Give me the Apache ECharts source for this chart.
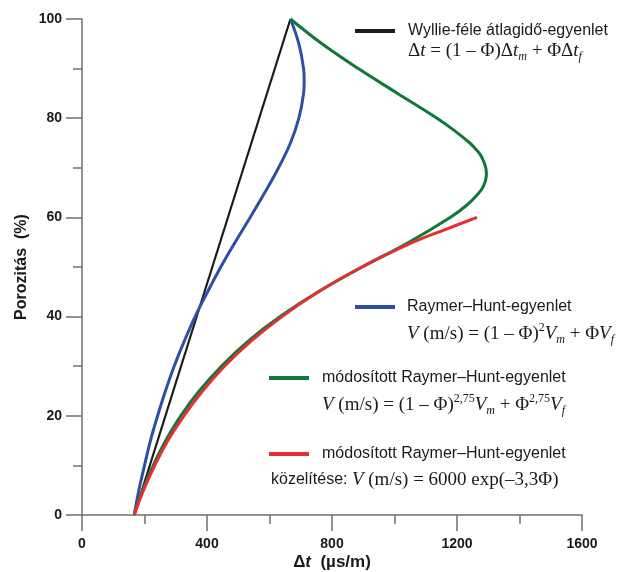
<!DOCTYPE html>
<html>
<head>
<meta charset="utf-8">
<script src="https://cdn.jsdelivr.net/npm/echarts@6/dist/echarts.min.js"></script>
<style>
  html, body { margin: 0; padding: 0; background: #fff; }
  #chart { width: 627px; height: 572px; }
</style>
</head>
<body>
<div id="chart"></div>
<script>
// tengelyek
const xTicks = [0, 400, 800, 1200, 1600]
const yTicks = [0, 20, 40, 60, 80, 100]

// [Δt (µs/m), porozitás (%)]
const wyllie = [[167, 0], [667, 100]]

const raymerHunt = [
  [167, 0], [182, 5], [200, 10], [219, 15], [242, 20], [267, 25], [295, 30],
  [327, 35], [362, 40], [402, 45], [444, 50], [490, 55], [538, 60], [585, 65],
  [629, 70], [667, 75], [694, 80], [709, 85], [711, 87.5], [709, 90], [694, 95],
  [667, 100]
]

const raymerHuntMod = [
  [167, 0], [194, 5], [228, 10], [268, 15], [316, 20], [375, 25], [446, 30],
  [531, 35], [634, 40], [756, 45], [897, 50], [1046, 55], [1178, 60],
  [1232, 62.5], [1271, 65], [1282, 66], [1289, 67], [1293, 68], [1294, 69],
  [1292, 70], [1287, 71], [1276, 72.5], [1260, 73.75], [1241, 75],
  [1192, 77.5], [1136, 80], [1010, 85], [884, 90], [768, 95], [667, 100]
]

const raymerHuntApprox = [
  [167, 0], [197, 5], [233, 10], [275, 15], [326, 20], [386, 25], [456, 30],
  [540, 35], [640, 40], [757, 45], [895, 50], [1060, 55], [1160, 57.5],
  [1264, 60]
]

const colors = {
  black: '#1b1b1b',
  blue: '#2c50a3',
  green: '#10783a',
  red: '#e5302f'
}

const axisColor = '#707070'
const sans = '"Liberation Sans", Arial, sans-serif'
const serif = '"Liberation Serif", "Times New Roman", serif'

const rich = {
  s: { fontFamily: serif, fontSize: 19, fill: '#1a1a1a', color: '#1a1a1a' },
  i: { fontFamily: serif, fontSize: 19, fontStyle: 'italic', fill: '#1a1a1a', color: '#1a1a1a' },
  sub: { fontFamily: serif, fontSize: 12, fontStyle: 'italic', fill: '#1a1a1a', color: '#1a1a1a', padding: [11, 0, 0, 0] },
  sup: { fontFamily: serif, fontSize: 12, fill: '#1a1a1a', color: '#1a1a1a', padding: [0, 0, 12, 0] },
  k: { fontFamily: sans, fontSize: 16, fill: '#1a1a1a', color: '#1a1a1a' }
}

const legendLine = (x1, x2, y, color) => ({
  type: 'line',
  shape: { x1: x1, y1: y, x2: x2, y2: y },
  style: { stroke: color, lineWidth: 4 }
})

const label = (x, y, text) => ({
  type: 'text',
  x: x,
  y: y,
  style: { text: text, font: '16px ' + sans, fill: '#1a1a1a', verticalAlign: 'middle' }
})

const formula = (x, y, text) => ({
  type: 'text',
  x: x,
  y: y,
  style: { text: text, rich: rich, fill: '#1a1a1a', verticalAlign: 'middle' }
})

const chart = echarts.init(document.getElementById('chart'))

const axisCommon = {
  type: 'value',
  axisLine: { show: true, lineStyle: { color: axisColor, width: 1.5 } },
  axisTick: { show: true, length: 16, lineStyle: { color: axisColor, width: 1.5 } },
  minorTick: { show: true, splitNumber: 2, length: 9, lineStyle: { color: axisColor, width: 1.5 } },
  splitLine: { show: false },
  axisLabel: {
    fontFamily: sans, fontSize: 14, fontWeight: 'bold', color: '#1a1a1a',
    formatter: (v) => String(v)
  }
}

const option = {
  animation: false,
  backgroundColor: '#ffffff',
  grid: { left: 82, right: 45, top: 19, bottom: 57, containLabel: false },
  xAxis: Object.assign({}, axisCommon, {
    min: xTicks[0],
    max: xTicks[xTicks.length - 1],
    interval: xTicks[1] - xTicks[0],
    axisLabel: Object.assign({}, axisCommon.axisLabel, { margin: 22 })
  }),
  yAxis: Object.assign({}, axisCommon, {
    min: yTicks[0],
    max: yTicks[yTicks.length - 1],
    interval: yTicks[1] - yTicks[0],
    axisLabel: Object.assign({}, axisCommon.axisLabel, { margin: 20 }),
    name: 'Porozitás  (%)',
    nameLocation: 'middle',
    nameGap: 52,
    nameMoveOverlap: false,
    nameTextStyle: { fontFamily: sans, fontSize: 16, fontWeight: 'bold', color: '#1a1a1a' }
  }),
  series: [
    { name: 'Wyllie', type: 'line', data: wyllie, showSymbol: false,
      lineStyle: { color: colors.black, width: 2.2 } },
    { name: 'Raymer–Hunt', type: 'line', data: raymerHunt, showSymbol: false, smooth: 0.4,
      lineStyle: { color: colors.blue, width: 3 } },
    { name: 'módosított Raymer–Hunt', type: 'line', data: raymerHuntMod, showSymbol: false, smooth: 0.4,
      lineStyle: { color: colors.green, width: 3 } },
    { name: 'közelítés', type: 'line', data: raymerHuntApprox, showSymbol: false, smooth: 0.4,
      lineStyle: { color: colors.red, width: 3 } }
  ],
  graphic: [
    // x tengely neve
    {
      type: 'text', x: 332, y: 562,
      style: {
        text: '{d|Δ}{t|t}{d|  (µs/m)}',
        align: 'center', verticalAlign: 'middle',
        rich: {
          d: { fontFamily: sans, fontSize: 17, fontWeight: 'bold', fill: '#1a1a1a', color: '#1a1a1a' },
          t: { fontFamily: sans, fontSize: 17, fontWeight: 'bold', fontStyle: 'italic', fill: '#1a1a1a', color: '#1a1a1a' }
        }
      }
    },
    // jelmagyarázat
    legendLine(355, 395, 31, colors.black),
    label(408, 31, 'Wyllie-féle átlagidő-egyenlet'),
    formula(408, 51, '{s|Δ}{i|t}{s| = (1 – Φ)Δ}{i|t}{sub|m}{s| + ΦΔ}{i|t}{sub|f}'),

    legendLine(355, 395, 307, colors.blue),
    label(407, 307, 'Raymer–Hunt-egyenlet'),
    formula(407, 334, '{i|V}{s| (m/s) = (1 – Φ)}{sup|2}{i|V}{sub|m}{s| + Φ}{i|V}{sub|f}'),

    legendLine(269, 309, 378, colors.green),
    label(322, 378, 'módosított Raymer–Hunt-egyenlet'),
    formula(322, 405, '{i|V}{s| (m/s) = (1 – Φ)}{sup|2,75}{i|V}{sub|m}{s| + Φ}{sup|2,75}{i|V}{sub|f}'),

    legendLine(269, 309, 454, colors.red),
    label(322, 454, 'módosított Raymer–Hunt-egyenlet'),
    formula(271, 480, '{k|közelítése: }{i|V}{s| (m/s) = 6000 exp(–3,3Φ)}')
  ]
}

chart.setOption(option)
</script>
</body>
</html>
